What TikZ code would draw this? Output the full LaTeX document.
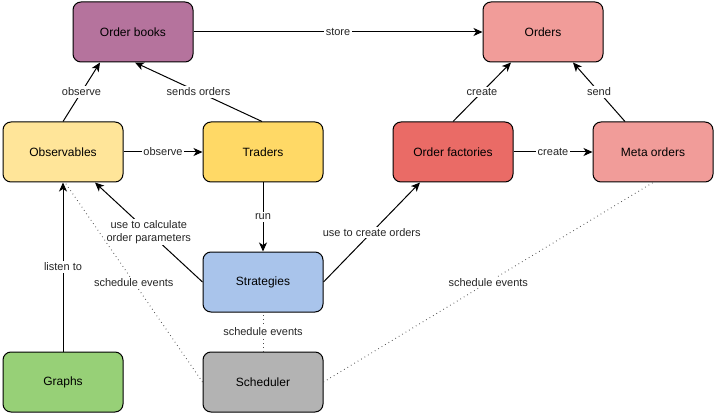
\documentclass[tikz,border=0pt]{standalone}
\usepackage{fontspec}
\setmainfont{Liberation Sans}
\usetikzlibrary{arrows.meta}
\definecolor{cOB}{HTML}{B5739D}
\definecolor{cOR}{HTML}{F19C99}
\definecolor{cOBS}{HTML}{FFE599}
\definecolor{cTR}{HTML}{FFD966}
\definecolor{cOF}{HTML}{EA6B66}
\definecolor{cST}{HTML}{A9C4EB}
\definecolor{cGR}{HTML}{97D077}
\definecolor{cSC}{HTML}{B3B3B3}
\tikzset{
  box/.style={draw=black, line width=1pt, rounded corners=8pt, minimum width=120pt, minimum height=60pt, inner sep=0pt, font=\fontsize{12}{14}\selectfont},
  conn/.style={line width=1pt, -{Stealth[length=9pt,width=8pt,inset=2.5pt]}},
  dots/.style={line width=0.9pt, draw=black!70, dash pattern=on 0.7pt off 3.3pt},
  lbl/.style={fill=white, inner sep=1.5pt, font=\fontsize{11}{13}\selectfont, text=black!85},
}
\begin{document}
\begin{tikzpicture}[x=1pt,y=-1pt]
\useasboundingbox (0,0) rectangle (714,414);
\node[box, fill=cOB] (ob) at (133,32) {Order books};
\node[box, fill=cOR] (or) at (543,32) {Orders};
\node[box, fill=cOBS] (obs) at (63,152) {Observables};
\node[box, fill=cTR] (tr) at (263,152) {Traders};
\node[box, fill=cOF] (of) at (453,152) {Order factories};
\node[box, fill=cOR] (mo) at (653,152) {Meta orders};
\node[box, fill=cST] (st) at (263,282) {Strategies};
\node[box, fill=cGR] (gr) at (63,382) {Graphs};
\node[box, fill=cSC] (sc) at (263,382) {Scheduler};

\draw[conn] (ob) -- node[lbl] {store} (or);
\draw[conn] (obs.north) -- node[lbl] {observe} ([xshift=-33pt]ob.south);
\draw[conn] ([xshift=-1pt]tr.north) -- node[lbl] {sends orders} ([xshift=2pt]ob.south);
\draw[conn] (obs) -- node[lbl] {observe} (tr);
\draw[conn] (tr) -- node[lbl] {run} (st);
\draw[conn] (st.west) -- node[lbl, align=center] {use to calculate\\order parameters} ([xshift=32pt]obs.south);
\draw[conn] (gr) -- node[lbl] {listen to} (obs);
\draw[conn] (st.east) -- node[lbl] {use to create orders} ([xshift=-33pt]of.south);
\draw[conn] (of.north) -- node[lbl] {create} ([xshift=-32pt]or.south);
\draw[conn] ([xshift=-28pt]mo.north) -- node[lbl] {send} ([xshift=30pt]or.south);
\draw[conn] (of) -- node[lbl] {create} (mo);

\draw[dots] (sc) -- node[lbl] {schedule events} (st);
\draw[dots] (sc.west) -- node[lbl] {schedule events} ([xshift=2pt]obs.south);
\draw[dots] (sc.east) -- node[lbl] {schedule events} (mo.south);
\end{tikzpicture}
\end{document}
